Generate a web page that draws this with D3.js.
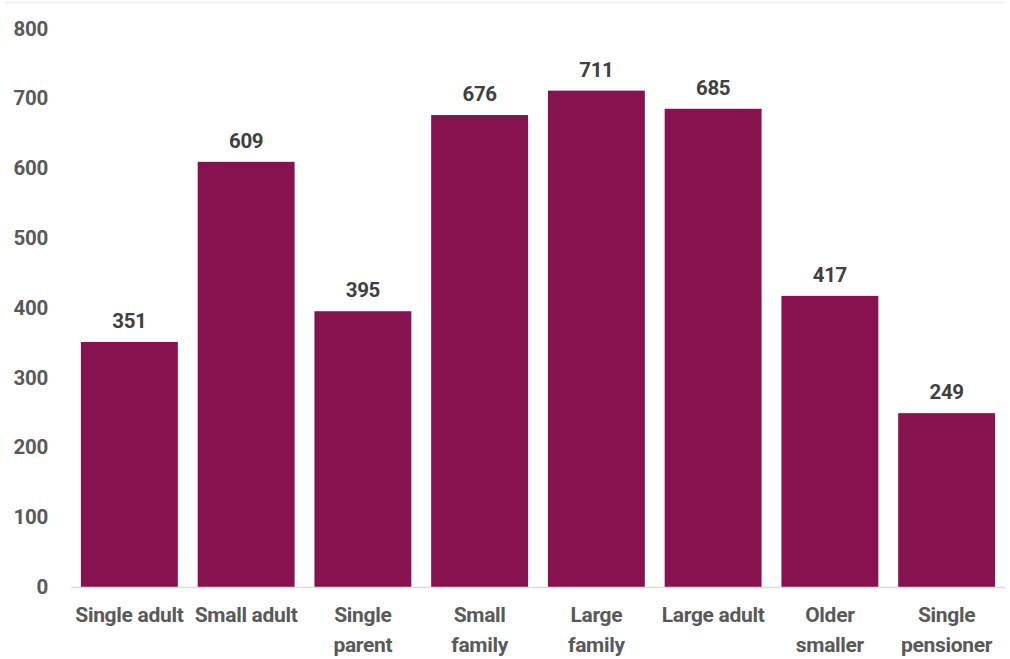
<!DOCTYPE html>
<html>
<head>
<meta charset="utf-8">
<script src="https://cdn.jsdelivr.net/npm/d3@7"></script>
<style>
  body { margin: 0; background: #fff; }
  text { font-family: Roboto, "Open Sans", sans-serif; font-weight: bold; }
</style>
</head>
<body>
<script>
// chart data
var categories = [["Single adult"], ["Small adult"], ["Single", "parent"], ["Small", "family"],
                  ["Large", "family"], ["Large adult"], ["Older", "smaller"], ["Single", "pensioner"]];
var values = [351, 609, 395, 676, 711, 685, 417, 249];
var yTicks = [0, 100, 200, 300, 400, 500, 600, 700, 800];

var W = 1010, H = 659;
var margin = {top: 28.5, right: 5, bottom: 72, left: 71};
var width = W - margin.left - margin.right,
    height = H - margin.top - margin.bottom;

var svg = d3.select("body").append("svg")
    .attr("width", W)
    .attr("height", H);

// faint border line at top
svg.append("line")
    .attr("x1", 5).attr("x2", 1005)
    .attr("y1", 2.5).attr("y2", 2.5)
    .style("stroke", "#f0f0f0")
    .style("stroke-width", 2);

var g = svg.append("g")
    .attr("transform", "translate(" + margin.left + "," + margin.top + ")");

var x = d3.scaleBand()
    .domain(d3.range(categories.length))
    .range([0, width])
    .paddingInner(0.17)
    .paddingOuter(0.085);

var y = d3.scaleLinear()
    .domain([0, 800])
    .range([height, 0]);

// y axis labels
var yAxis = g.append("g")
    .call(d3.axisLeft(y).tickValues(yTicks).tickSize(0).tickPadding(23));
yAxis.select(".domain").remove();
yAxis.selectAll("text")
    .style("font-size", "20.5px")
    .style("font-family", "Roboto, sans-serif")
    .style("font-weight", "bold")
    .style("letter-spacing", "-0.3px")
    .style("fill", "#595959");

// bars
g.selectAll(".bar")
  .data(values)
  .enter()
  .append("rect")
    .attr("class", "bar")
    .attr("x", function(d, i) { return x(i); })
    .attr("y", function(d) { return y(d); })
    .attr("width", x.bandwidth())
    .attr("height", function(d) { return height - y(d); })
    .style("fill", "#861250");

// baseline
g.append("line")
    .attr("x1", 0).attr("x2", width)
    .attr("y1", height + 0.5).attr("y2", height + 0.5)
    .style("stroke", "#d9d9d9")
    .style("stroke-width", 1.5);

// value labels
g.selectAll(".val")
  .data(values)
  .enter()
  .append("text")
    .attr("class", "val")
    .attr("x", function(d, i) { return x(i) + x.bandwidth() / 2; })
    .attr("y", function(d) { return y(d) - 14; })
    .attr("text-anchor", "middle")
    .style("font-size", "20.5px")
    .style("letter-spacing", "-0.3px")
    .style("fill", "#404040")
    .text(function(d) { return d; });

// category labels
var cat = g.selectAll(".cat")
  .data(categories)
  .enter()
  .append("text")
    .attr("class", "cat")
    .attr("text-anchor", "middle")
    .attr("transform", function(d, i) {
      return "translate(" + (x(i) + x.bandwidth() / 2) + "," + (height + 35) + ")";
    })
    .style("font-size", "21px")
    .style("letter-spacing", "-0.3px")
    .style("fill", "#595959");

cat.selectAll("tspan")
  .data(function(d) { return d; })
  .enter()
  .append("tspan")
    .attr("x", 0)
    .attr("dy", function(d, i) { return i ? 30 : 0; })
    .text(function(d) { return d; });
</script>
</body>
</html>
